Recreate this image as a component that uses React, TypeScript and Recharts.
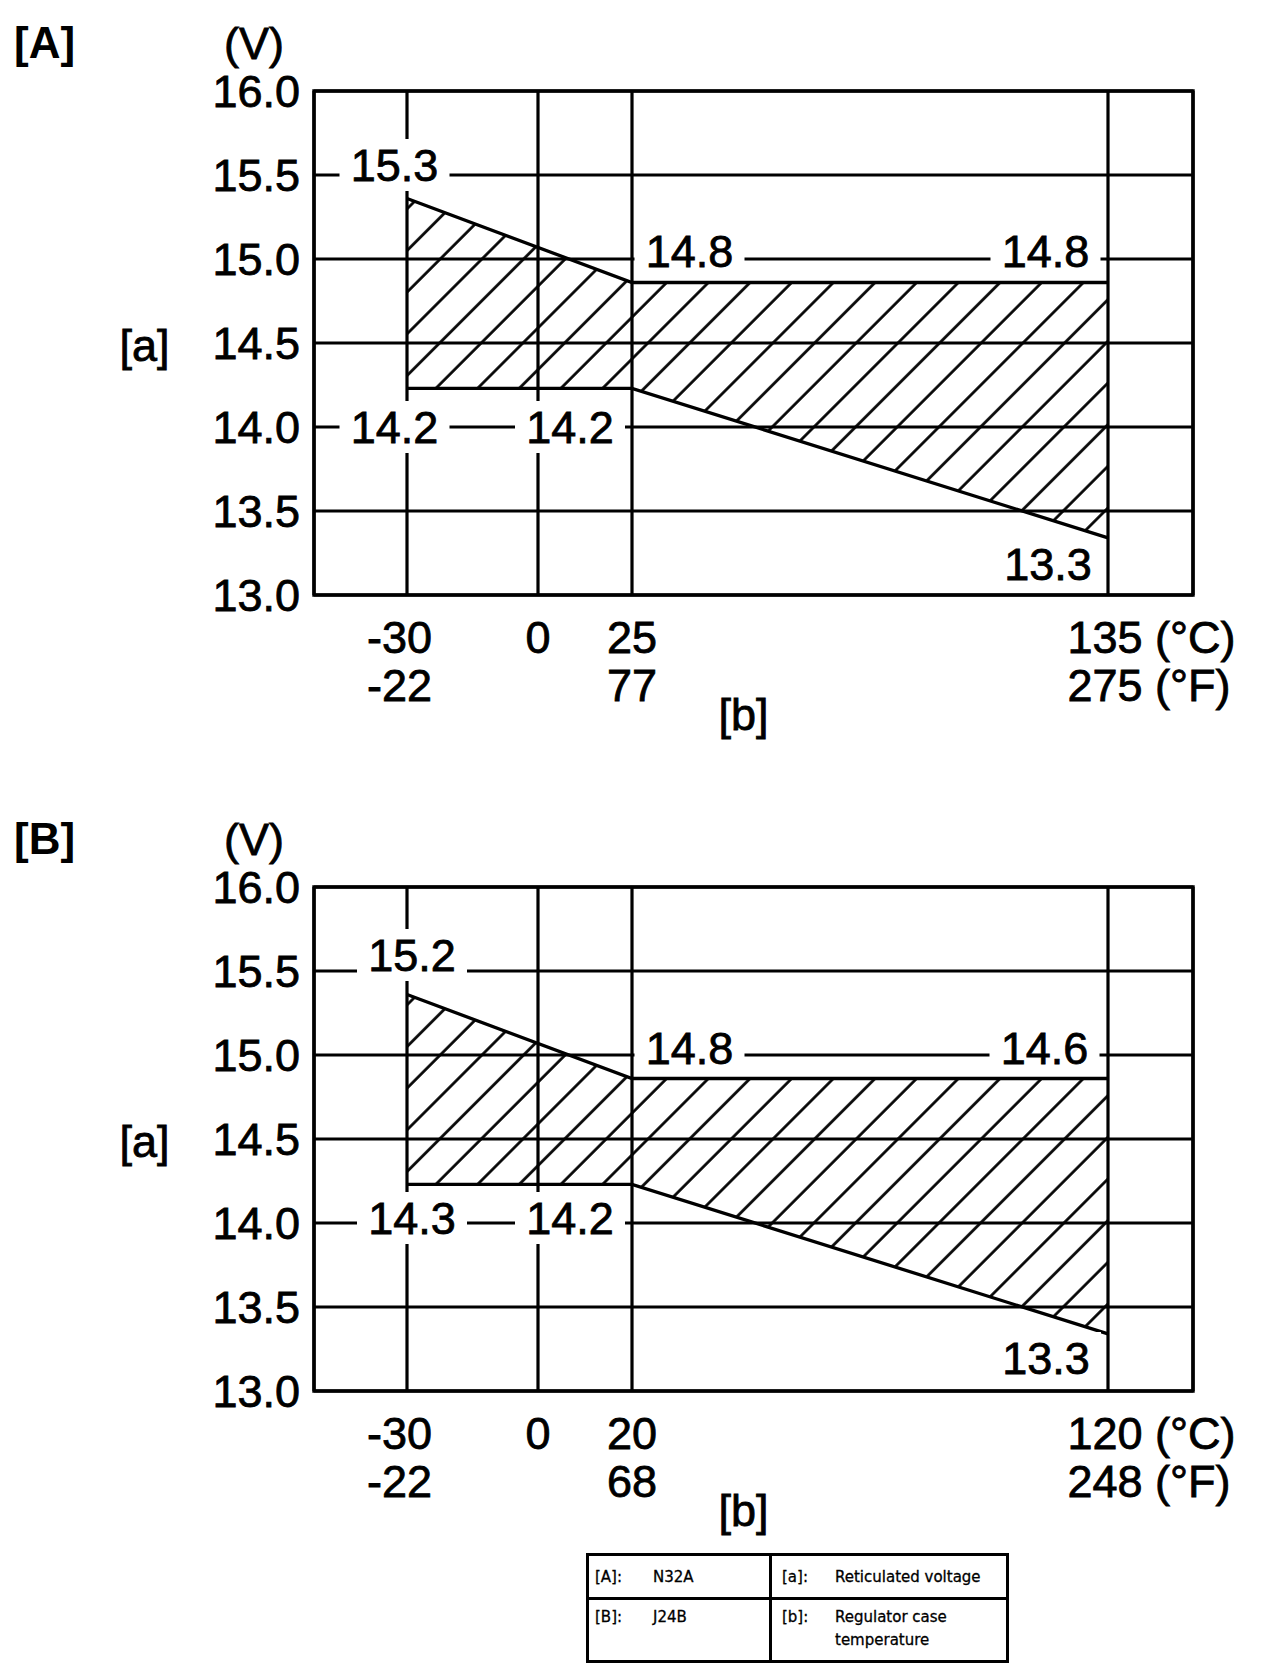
import React from 'react';
import {
  ComposedChart,
  Area,
  XAxis,
  YAxis,
  CartesianGrid,
  ReferenceArea,
  ReferenceDot,
} from 'recharts';

// ---------------- data ----------------
const voltTicks = [13.0, 13.5, 14.0, 14.5, 15.0, 15.5, 16.0];

// [A] N32A
const tempCelsiusA = [-30, 0, 25, 135];
const tempFahrenheitA: (number | null)[] = [-22, null, 77, 275];
const bandTempA = [-30, 25, 135];
const bandUpperA = [15.36, 14.86, 14.86];
const bandLowerA = [14.23, 14.23, 13.34];
const noteTextA = ['15.3', '14.8', '14.8', '14.2', '14.2', '13.3'];
const noteTempA = [-30, 25, 135, -30, 0, 135];
const noteVoltA = [15.5, 15.0, 15.0, 14.0, 14.0, 13.0];

// [B] J24B
const tempCelsiusB = [-30, 0, 20, 120];
const tempFahrenheitB: (number | null)[] = [-22, null, 68, 248];
const bandTempB = [-30, 20, 120];
const bandUpperB = [15.36, 14.86, 14.86];
const bandLowerB = [14.23, 14.23, 13.34];
const noteTextB = ['15.2', '14.8', '14.6', '14.3', '14.2', '13.3'];
const noteTempB = [-30, 20, 120, -30, 0, 120];
const noteVoltB = [15.5, 15.0, 15.0, 14.0, 14.0, 13.0];

const legendLeft = [
  ['[A]:', 'N32A'],
  ['[B]:', 'J24B'],
];
const legendRight = [
  ['[a]:', 'Reticulated voltage'],
  ['[b]:', 'Regulator case\ntemperature'],
];

// ---------------- layout ----------------
const FONT = "'Liberation Sans', Arial, Helvetica, sans-serif";
const CHART_W = 1264;
const CHART_H = 796;
const PLOT_TOP = 91;
const PLOT_BOTTOM = 595;
const PLOT_LEFT = 314;
const PLOT_RIGHT = 1193;
const X_AXIS_H = 100;
const Y_AXIS_W = 120;
// the temperature axis is schematic (not to scale): column positions in px from plot left
const X_SPAN = 879;
const SLOT_X = [93, 224, 318, 794];
const NOTE_OFFSETS_A = [
  [-12.5, -10],
  [57.5, -8],
  [-62.5, -8],
  [-12.5, 0],
  [32, 0],
  [-60, -31],
];
const NOTE_OFFSETS_B = [
  [5, -16],
  [57.5, -7],
  [-63.5, -7],
  [5, -5],
  [32, -5],
  [-62, -33],
];

function tempToPos(t: number, temps: number[]): number {
  const i = temps.indexOf(t);
  if (i >= 0) return SLOT_X[i];
  for (let k = 0; k < temps.length - 1; k++) {
    if (t > temps[k] && t < temps[k + 1]) {
      const f = (t - temps[k]) / (temps[k + 1] - temps[k]);
      return SLOT_X[k] + f * (SLOT_X[k + 1] - SLOT_X[k]);
    }
  }
  return 0;
}

type ChartProps = {
  id: string;
  top: number;
  title: string;
  tempsC: number[];
  tempsF: (number | null)[];
  bandTemps: number[];
  upper: number[];
  lower: number[];
  noteText: string[];
  noteTemp: number[];
  noteVolt: number[];
  noteOffsets: number[][];
};

const textStyle = {
  fontFamily: FONT,
  fontSize: 45,
  fill: '#000',
  stroke: '#000',
  strokeWidth: 0.8,
} as const;

function VoltageChart(props: ChartProps) {
  const { id, top, title, tempsC, tempsF, bandTemps, upper, lower, noteText, noteTemp, noteVolt, noteOffsets } = props;
  const data = bandTemps.map((t, i) => ({
    pos: tempToPos(t, tempsC),
    band: [lower[i], upper[i]],
  }));

  const renderXTick = (p: any) => {
    const i = SLOT_X.indexOf(p.payload.value);
    if (i < 0) return <g />;
    const c = tempsC[i];
    const f = tempsF[i];
    const last = i === SLOT_X.length - 1;
    const shift = (v: number) => (v < 0 ? -7.5 : last ? -3 : 0);
    return (
      <g>
        <text x={p.x + shift(c)} y={p.y + 42} textAnchor="middle" dominantBaseline="central" {...textStyle}>
          {String(c)}
        </text>
        {f != null && (
          <text x={p.x + shift(f)} y={p.y + 90} textAnchor="middle" dominantBaseline="central" {...textStyle}>
            {String(f)}
          </text>
        )}
        {last && (
          <text x={p.x + 47} y={p.y + 42} textAnchor="start" dominantBaseline="central" {...textStyle}>
            (°C)
          </text>
        )}
        {last && (
          <text x={p.x + 47} y={p.y + 90} textAnchor="start" dominantBaseline="central" {...textStyle}>
            (°F)
          </text>
        )}
      </g>
    );
  };

  return (
    <div style={{ position: 'absolute', left: 0, top, width: CHART_W, height: CHART_H }}>
      <ComposedChart
        width={CHART_W}
        height={CHART_H}
        data={data}
        margin={{
          top: PLOT_TOP,
          bottom: CHART_H - PLOT_BOTTOM - X_AXIS_H,
          left: PLOT_LEFT - Y_AXIS_W,
          right: CHART_W - PLOT_RIGHT,
        }}
      >
        <defs>
          <pattern
            id={`hatch-${id}`}
            patternUnits="userSpaceOnUse"
            width={29.46}
            height={29.46}
            patternTransform="rotate(45)"
          >
            <line x1={23.1} y1={-2} x2={23.1} y2={32} stroke="#000" strokeWidth={2.7} />
          </pattern>
        </defs>
        <CartesianGrid stroke="#000" strokeWidth={3.2} />
        <XAxis
          type="number"
          dataKey="pos"
          domain={[0, X_SPAN]}
          ticks={SLOT_X}
          interval={0}
          allowDataOverflow
          axisLine={false}
          tickLine={false}
          tickSize={0}
          tickMargin={0}
          height={X_AXIS_H}
          tick={renderXTick}
        />
        <YAxis
          type="number"
          domain={[13, 16]}
          ticks={voltTicks}
          interval={0}
          allowDataOverflow
          axisLine={false}
          tickLine={false}
          tickSize={0}
          tickMargin={14}
          width={Y_AXIS_W}
          tickFormatter={(v: number) => v.toFixed(1)}
          tick={{ fontFamily: FONT, fontSize: 45, fill: '#000', stroke: '#000', strokeWidth: 0.8 }}
        />
        <Area
          type="linear"
          dataKey="band"
          stroke="#000"
          strokeWidth={3.3}
          fill={`url(#hatch-${id})`}
          fillOpacity={1}
          dot={false}
          activeDot={false}
          isAnimationActive={false}
        />
        <ReferenceArea
          x1={0}
          x2={X_SPAN}
          y1={13}
          y2={16}
          fill="none"
          fillOpacity={0}
          stroke="#000"
          strokeWidth={3.4}
          ifOverflow="visible"
        />
        {noteText.map((txt, i) => (
          <ReferenceDot
            key={`note-${i}`}
            x={tempToPos(noteTemp[i], tempsC)}
            y={noteVolt[i]}
            r={0}
            ifOverflow="visible"
            shape={(p: any) => {
              const cx = p.cx + noteOffsets[i][0];
              const cy = p.cy + noteOffsets[i][1];
              return (
                <g>
                  <rect x={cx - 55} y={cy - 26} width={110} height={52} fill="#fff" />
                  <text x={cx} y={cy} textAnchor="middle" dominantBaseline="central" {...textStyle}>
                    {txt}
                  </text>
                </g>
              );
            }}
          />
        ))}
      </ComposedChart>
      <svg
        width={CHART_W}
        height={CHART_H}
        style={{ position: 'absolute', left: 0, top: 0, pointerEvents: 'none' }}
      >
        <text x={14} y={42} dominantBaseline="central" fontFamily={FONT} fontSize={44} fontWeight="bold" fill="#000">
          {title}
        </text>
        <text x={254} y={43} textAnchor="middle" dominantBaseline="central" {...textStyle}>
          (V)
        </text>
        <text x={144.5} y={345} textAnchor="middle" dominantBaseline="central" {...textStyle}>
          [a]
        </text>
        <text x={743.5} y={714} textAnchor="middle" dominantBaseline="central" {...textStyle}>
          [b]
        </text>
      </svg>
    </div>
  );
}

function LegendTable() {
  const cell: React.CSSProperties = {
    position: 'absolute',
    fontFamily: "'DejaVu Sans', Verdana, sans-serif",
    fontSize: 15,
    color: '#000',
    lineHeight: '22.5px',
    whiteSpace: 'pre',
    WebkitTextStroke: '0.3px #000',
  };
  const L = 586;
  const T = 1553;
  const rowY = [1577, 1617];
  return (
    <div
      style={{
        position: 'absolute',
        left: L,
        top: T,
        width: 423,
        height: 110,
        border: '3px solid #000',
        boxSizing: 'border-box',
      }}
    >
      <div style={{ position: 'absolute', left: 770 - L - 3 - 1.5, top: 0, width: 3, height: 104, background: '#000' }} />
      <div style={{ position: 'absolute', left: 0, top: 1598 - T - 3 - 1.5, width: 417, height: 3, background: '#000' }} />
      {legendLeft.map((r, i) => (
        <React.Fragment key={`l${i}`}>
          <div style={{ ...cell, left: 595 - L - 3, top: rowY[i] - T - 3 - 11 }}>{r[0]}</div>
          <div style={{ ...cell, left: 653 - L - 3, top: rowY[i] - T - 3 - 11 }}>{r[1]}</div>
        </React.Fragment>
      ))}
      {legendRight.map((r, i) => (
        <React.Fragment key={`r${i}`}>
          <div style={{ ...cell, left: 782 - L - 3, top: rowY[i] - T - 3 - 11 }}>{r[0]}</div>
          <div style={{ ...cell, left: 835 - L - 3, top: rowY[i] - T - 3 - 11 }}>{r[1]}</div>
        </React.Fragment>
      ))}
    </div>
  );
}

export default function App() {
  return (
    <div style={{ position: 'absolute', left: 0, top: 0, width: 1264, height: 1678, background: '#fff' }}>
      <VoltageChart
        id="A"
        top={0}
        title="[A]"
        tempsC={tempCelsiusA}
        tempsF={tempFahrenheitA}
        bandTemps={bandTempA}
        upper={bandUpperA}
        lower={bandLowerA}
        noteText={noteTextA}
        noteTemp={noteTempA}
        noteVolt={noteVoltA}
        noteOffsets={NOTE_OFFSETS_A}
      />
      <VoltageChart
        id="B"
        top={796}
        title="[B]"
        tempsC={tempCelsiusB}
        tempsF={tempFahrenheitB}
        bandTemps={bandTempB}
        upper={bandUpperB}
        lower={bandLowerB}
        noteText={noteTextB}
        noteTemp={noteTempB}
        noteVolt={noteVoltB}
        noteOffsets={NOTE_OFFSETS_B}
      />
      <LegendTable />
    </div>
  );
}
